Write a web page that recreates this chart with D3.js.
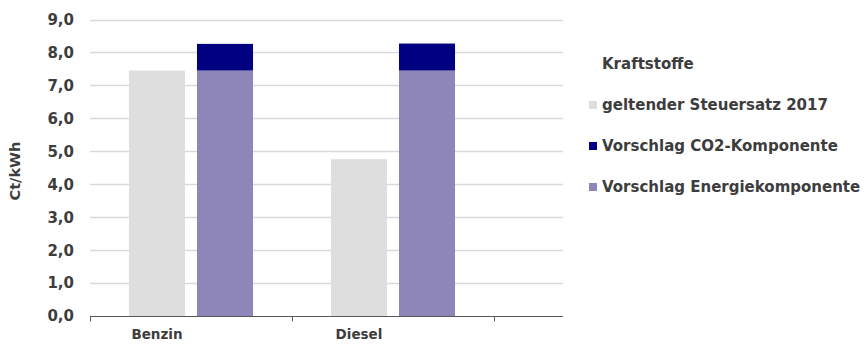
<!DOCTYPE html>
<html>
<head>
<meta charset="utf-8">
<script src="https://cdn.jsdelivr.net/npm/d3@7"></script>
<style>
  body { margin: 0; background: #fff; }
  text { font-family: "DejaVu Sans", sans-serif; fill: #3d3d3d; font-weight: bold; }
</style>
</head>
<body>
<div id="chart"></div>
<script>
// data
const categories = ['Benzin', 'Diesel'];
const steuersatz2017 = [7.45, 4.76];
const energieKomponente = [7.45, 7.45];
const co2Komponente = [0.81, 0.82];
const yTicks = [0, 1, 2, 3, 4, 5, 6, 7, 8, 9];
const legendTitle = 'Kraftstoffe';
const legendLabels = ['geltender Steuersatz 2017', 'Vorschlag CO2-Komponente', 'Vorschlag Energiekomponente'];
const colors = { current: '#dedede', co2: '#000080', energie: '#8e86b8' };

const width = 866, height = 347;
const margin = { left: 90, top: 20, bottom: 31 };
const plotRight = 563;

const svg = d3.select('#chart').append('svg')
  .attr('width', width)
  .attr('height', height);

const y = d3.scaleLinear().domain([0, 9]).range([height - margin.bottom, margin.top - 0.5]);

// each category gets a 202px band, third (empty) band cut off by legend
const x0 = d3.scaleBand().domain(categories).range([margin.left, 494]);
const x1 = d3.scaleBand().domain(['current', 'proposal'])
  .range([0, x0.bandwidth()])
  .paddingInner(0.176)
  .paddingOuter(0.573);

// gridlines
svg.append('g')
  .selectAll('line')
  .data(yTicks.slice(1))
  .enter()
  .append('line')
  .attr('x1', margin.left)
  .attr('x2', plotRight)
  .attr('y1', d => Math.round(y(d)) + 0.5)
  .attr('y2', d => Math.round(y(d)) + 0.5)
  .attr('stroke', '#d9d9d9')
  .attr('stroke-width', 1.3);

// y labels
svg.append('g')
  .selectAll('text')
  .data(yTicks)
  .enter()
  .append('text')
  .attr('x', 74)
  .attr('y', d => y(d))
  .attr('dy', '0.36em')
  .attr('text-anchor', 'end')
  .style('font-size', '15px')
  .text(d => d.toFixed(1).replace('.', ','));

svg.append('text')
  .attr('transform', `translate(20, ${y(4.4)}) rotate(-90)`)
  .attr('text-anchor', 'middle')
  .style('font-size', '14.5px')
  .text('Ct/kWh');

// bars
const groups = svg.append('g')
  .selectAll('g')
  .data(categories)
  .enter()
  .append('g')
  .attr('transform', d => `translate(${x0(d)},0)`);

groups.append('rect')
  .attr('x', x1('current'))
  .attr('width', x1.bandwidth())
  .attr('y', (d, i) => y(steuersatz2017[i]))
  .attr('height', (d, i) => y(0) - y(steuersatz2017[i]))
  .attr('fill', colors.current);

groups.append('rect')
  .attr('x', x1('proposal'))
  .attr('width', x1.bandwidth())
  .attr('y', (d, i) => y(energieKomponente[i]))
  .attr('height', (d, i) => y(0) - y(energieKomponente[i]))
  .attr('fill', colors.energie);

groups.append('rect')
  .attr('x', x1('proposal'))
  .attr('width', x1.bandwidth())
  .attr('y', (d, i) => y(energieKomponente[i] + co2Komponente[i]))
  .attr('height', (d, i) => y(energieKomponente[i]) - y(energieKomponente[i] + co2Komponente[i]))
  .attr('fill', colors.co2);

// x axis
const axisY = Math.round(y(0)) + 0.5;
svg.append('line')
  .attr('x1', margin.left)
  .attr('x2', plotRight)
  .attr('y1', axisY)
  .attr('y2', axisY)
  .attr('stroke', '#595959')
  .attr('stroke-width', 1.2);

svg.append('g')
  .selectAll('line')
  .data([...categories.map(c => x0(c)), x0.range()[1]])
  .enter()
  .append('line')
  .attr('x1', d => Math.round(d) + 0.5)
  .attr('x2', d => Math.round(d) + 0.5)
  .attr('y1', axisY)
  .attr('y2', axisY + 5)
  .attr('stroke', '#595959');

groups.append('text')
  .attr('x', x1('current') + x1.bandwidth() / 2)
  .attr('y', axisY + 22)
  .attr('text-anchor', 'middle')
  .style('font-size', '13.5px')
  .text(d => d);

// legend
const legend = svg.append('g').attr('transform', 'translate(589,0)');
legend.append('text')
  .attr('x', 13)
  .attr('y', 64)
  .attr('dy', '0.36em')
  .style('font-size', '15px')
  .text(legendTitle);

const legendColors = [colors.current, colors.co2, colors.energie];
const items = legend.selectAll('g.item')
  .data(legendLabels)
  .enter()
  .append('g')
  .attr('class', 'item')
  .attr('transform', (d, i) => `translate(0, ${105 + i * 41})`);

items.append('rect')
  .attr('x', 0)
  .attr('y', -4)
  .attr('width', 8)
  .attr('height', 8)
  .attr('fill', (d, i) => legendColors[i]);

items.append('text')
  .attr('x', 13)
  .attr('dy', '0.36em')
  .style('font-size', '15px')
  .text(d => d);
</script>
</body>
</html>
